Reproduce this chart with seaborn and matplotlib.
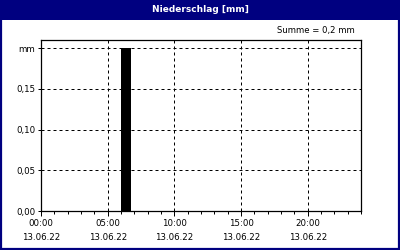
import matplotlib
matplotlib.use("Agg")
import matplotlib.pyplot as plt
from matplotlib.patches import Rectangle
from matplotlib.ticker import MultipleLocator, FixedLocator
import seaborn as sns
import pandas as pd

title = "Niederschlag [mm]"
summary = "Summe = 0,2 mm"
bar_hours = [6.375]          # bar centre, hours since 00:00
bar_values = [0.2]           # mm
x_ticks = [0, 5, 10, 15, 20]
x_labels = ["00:00\n13.06.22", "05:00\n13.06.22", "10:00\n13.06.22",
            "15:00\n13.06.22", "20:00\n13.06.22"]
y_ticks = [0.0, 0.05, 0.10, 0.15, 0.20]
y_labels = ["0,00", "0,05", "0,10", "0,15", "mm"]

sns.set_theme(style="white")
plt.rcParams["font.family"] = ["DejaVu Sans"]
plt.rcParams["text.color"] = "black"
plt.rcParams["xtick.color"] = "black"
plt.rcParams["ytick.color"] = "black"
plt.rcParams["xtick.labelcolor"] = "black"
plt.rcParams["ytick.labelcolor"] = "black"
navy = "#000080"

fig = plt.figure(figsize=(4, 2.5), dpi=100, facecolor="white")
# title bar
fig.add_artist(Rectangle((0, 230 / 250), 1, 20 / 250, transform=fig.transFigure,
                         facecolor=navy, edgecolor="none", zorder=0))
fig.add_artist(Rectangle((0.002, 0.003), 0.996, 0.994, transform=fig.transFigure,
                         facecolor="none", edgecolor=navy, linewidth=1.6, zorder=5))
fig.text(0.5, 1 - 10 / 250, title, color="white", fontweight="bold",
         fontsize=6.5, ha="center", va="center")
fig.text(355 / 400, 1 - 31 / 250, summary, color="black", fontsize=6.1,
         ha="right", va="center")

ax = fig.add_axes([41 / 400, 39 / 250, 320 / 400, 171 / 250])
df = pd.DataFrame({"hour": bar_hours, "value": bar_values})
sns.barplot(data=df, x="hour", y="value", native_scale=True, width=0.75,
            color="black", saturation=1, errorbar=None, linewidth=0, ax=ax)

ax.set_xlim(0, 24)
ax.set_ylim(0, 0.21)
ax.set_xlabel("")
ax.set_ylabel("")
ax.xaxis.set_major_locator(FixedLocator(x_ticks))
ax.set_xticklabels(x_labels, fontsize=6.2, linespacing=1.65, color="black")
ax.xaxis.set_minor_locator(MultipleLocator(1))
ax.yaxis.set_major_locator(FixedLocator(y_ticks))
ax.set_yticklabels(y_labels, fontsize=6.2, color="black")
ax.tick_params(axis="x", which="major", direction="out", length=3.5, width=0.72,
               color="black", pad=2.5, bottom=True)
ax.tick_params(axis="x", which="minor", direction="out", length=2.5, width=0.72,
               color="black", bottom=True)
ax.tick_params(axis="y", which="major", direction="out", length=2.5, width=0.72,
               color="black", pad=1.5, left=True)
for s in ax.spines.values():
    s.set_visible(True)
    s.set_color("black")
    s.set_linewidth(0.9)
ax.grid(True, which="major", axis="both", color="black",
        linestyle=(0, (3, 3)), linewidth=0.72)
ax.set_axisbelow(True)
ax.set_facecolor("white")

fig.savefig("out.png", dpi=100, facecolor="white")
